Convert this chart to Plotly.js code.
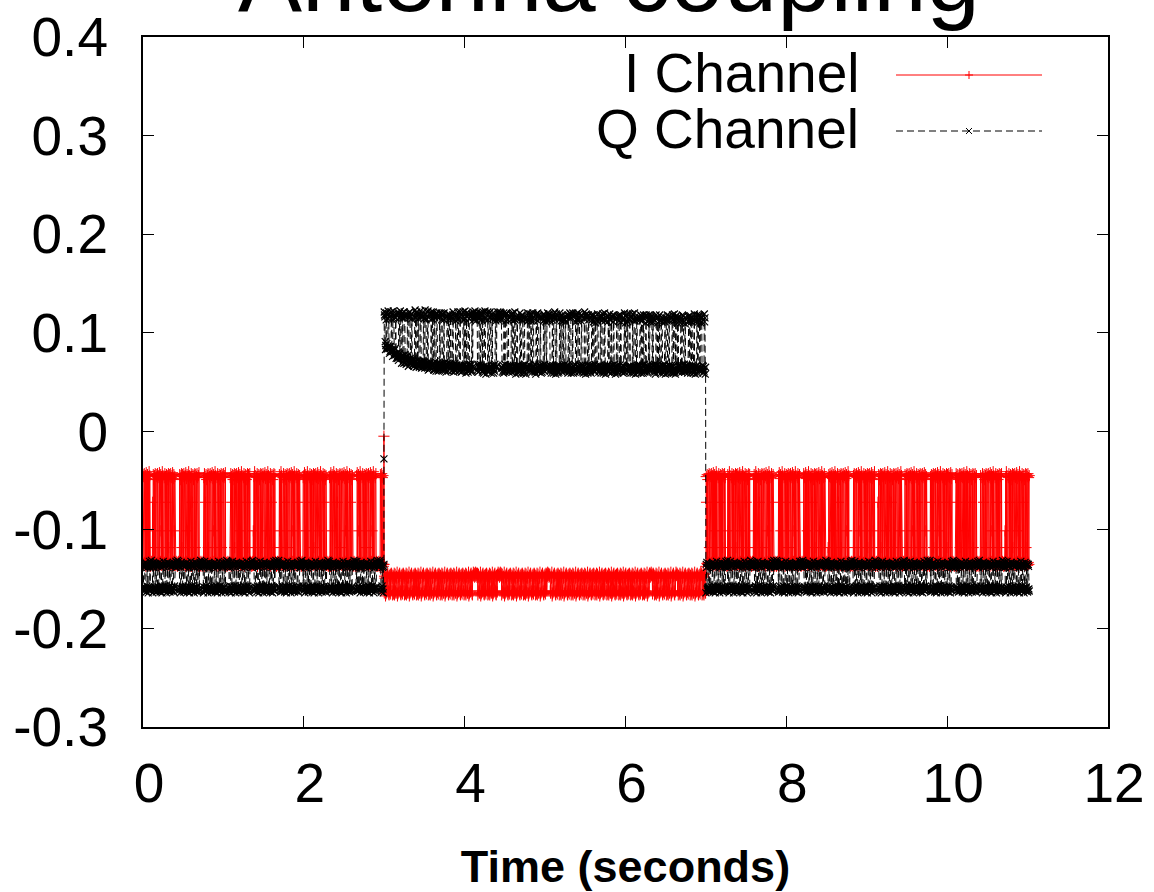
<!DOCTYPE html>
<html>
<head>
<meta charset="utf-8">
<script src="https://cdn.plot.ly/plotly-3.0.1.min.js"></script>
<style>html,body{margin:0;padding:0;background:#fff;}#chart{width:1154px;height:892px;}</style>
</head>
<body>
<div id="chart"></div>
<script>
// ---------- data ----------
const TITLE = "Antenna coupling";
const X_TITLE = "Time (seconds)";
const SERIES_NAMES = ["I Channel", "Q Channel"];
const X_TICKS = [0, 2, 4, 6, 8, 10, 12];
const X_TICK_TEXT = ["0", "2", "4", "6", "8", "10", "12"];
const Y_TICKS = [-0.3, -0.2, -0.1, 0, 0.1, 0.2, 0.3, 0.4];
const Y_TICK_TEXT = ["-0.3", "-0.2", "-0.1", "0", "0.1", "0.2", "0.3", "0.4"];

const SAMPLE_STEP = 0.004;      // seconds between samples
const T_END = 11.02;            // last sample time
const B_START = 3.0, B_END = 7.0; // middle segment

// I channel burst windows (seconds) outside the middle segment
const I_BURSTS = [
  [0.00, 0.09], [0.12, 0.40], [0.45, 0.70], [0.75, 1.03], [1.07, 1.33], [1.37, 1.64],
  [1.69, 1.95], [1.99, 2.28], [2.32, 2.61], [2.65, 2.90], [2.95, 2.99],
  [7.00, 7.24], [7.27, 7.55], [7.59, 7.84], [7.90, 8.17], [8.21, 8.48], [8.52, 8.79],
  [8.83, 9.10], [9.14, 9.44], [9.47, 9.75], [9.79, 10.06], [10.10, 10.37], [10.41, 10.68],
  [10.72, 11.02]
];
// blocks of activity inside the middle segment
const B_BLOCKS = [[3.00, 4.10], [4.16, 4.41], [4.46, 5.02], [5.06, 6.30], [6.33, 6.62], [6.64, 6.93], [6.95, 7.00]];

// sample values
const I_BURST_VALS = [-0.044,-0.134,-0.046,-0.136,-0.043,-0.133,-0.047,-0.135,-0.045,-0.137,
  -0.042,-0.134,-0.048,-0.132,-0.044,-0.101,-0.136,-0.046,-0.135,-0.041,
  -0.134,-0.045,-0.136,-0.135,-0.134,-0.047,-0.133,-0.043,-0.137,-0.046,
  -0.072,-0.134,-0.044,-0.135,-0.049,-0.133,-0.045,-0.136,-0.043,-0.118,-0.135];
const I_IDLE_VALS = [-0.135,-0.133,-0.137,-0.134,-0.136,-0.132,-0.135];
const Q_BURST_VALS = [-0.135,-0.137,-0.160,-0.162,-0.158,-0.161,-0.134,-0.136,-0.133,-0.159,
  -0.163,-0.160,-0.157,-0.136,-0.138,-0.160,-0.164,-0.158,-0.161,-0.135,
  -0.132,-0.137,-0.159,-0.162,-0.160,-0.157,-0.134,-0.136,-0.161,-0.159,
  -0.164,-0.135,-0.138,-0.133,-0.160,-0.162,-0.159,-0.158,-0.136,-0.134,
  -0.161,-0.163,-0.135];
const Q_IDLE_VALS = [-0.134,-0.137,-0.135,-0.132,-0.136,-0.138,-0.133,-0.135,-0.131];

const I_B_BLOCK_VALS = [-0.146,-0.147,-0.165,-0.163,-0.144,-0.166,-0.148,-0.145,-0.162,-0.164,
  -0.164,-0.147,-0.149,-0.143,-0.167,-0.165,-0.164,-0.148,-0.146,-0.163,
  -0.145,-0.144,-0.147,-0.162,-0.165,-0.166,-0.146,-0.163,-0.163,-0.145,
  -0.165,-0.147,-0.144,-0.145,-0.162,-0.149,-0.166];
const I_B_IDLE_VALS = [-0.146,-0.144,-0.148,-0.145,-0.147,-0.143,-0.146];

const Q_B_PATTERN = "TTTBBBTTBBBBTTTBBBBBBBTTBBBTTTTBBBBTTBBBBBBBBTTTBB";
const Q_B_JITTER = [0.002,-0.003,0.001,0.004,-0.001,-0.004,0.003,0.000,-0.002,0.005,-0.003,0.001,
  -0.005,0.002,0.003,-0.001,0.000,-0.002,0.004,-0.004,0.001,0.002,-0.003,0.003,-0.001,0.004,
  -0.002,0.000,0.003,-0.004,0.001];
const Q_B_TOP_LEVELS = [[3.0,0.118],[3.6,0.117],[4.6,0.116],[5.6,0.115],[6.4,0.114]];
const Q_B_LOW_LEVELS = [[3.00,0.086],[3.05,0.082],[3.10,0.079],[3.15,0.076],[3.20,0.073],
  [3.30,0.070],[3.40,0.068],[3.50,0.066],[3.65,0.065],[3.85,0.064],[4.20,0.063]];

// switch-over glitch just before the middle segment
const SPIKE_TIME = 2.996;
const I_SPIKE = -0.005;
const Q_SPIKE = -0.028;

// ---------- assemble the traces ----------
function inside(t, wins) { return wins.some(w => t >= w[0] && t < w[1] + 1e-9); }
function stepLevel(t, table) { let v = table[0][1]; for (const r of table) if (t >= r[0]) v = r[1]; return v; }

const tI = [], vI = [], tQ = [], vQ = [];
let spikeDone = false;
const nSamples = Math.round(T_END / SAMPLE_STEP);
for (let k = 0; k <= nSamples; k++) {
  const t = +(k * SAMPLE_STEP).toFixed(4);
  let iv, qv;
  if (t >= B_START && !spikeDone) {
    tI.push(SPIKE_TIME); vI.push(I_SPIKE);
    tQ.push(SPIKE_TIME); vQ.push(Q_SPIKE);
    spikeDone = true;
  }
  if (t < B_START || t >= B_END) {
    if (inside(t, I_BURSTS)) {
      iv = I_BURST_VALS[k % I_BURST_VALS.length];
      qv = Q_BURST_VALS[k % Q_BURST_VALS.length];
    } else {
      iv = I_IDLE_VALS[k % I_IDLE_VALS.length];
      qv = Q_IDLE_VALS[k % Q_IDLE_VALS.length];
    }
  } else {
    let state;
    if (inside(t, B_BLOCKS)) {
      iv = I_B_BLOCK_VALS[k % I_B_BLOCK_VALS.length];
      state = Q_B_PATTERN[k % Q_B_PATTERN.length];
    } else {
      iv = I_B_IDLE_VALS[k % I_B_IDLE_VALS.length];
      state = "T";
    }
    const lvl = state === "T" ? stepLevel(t, Q_B_TOP_LEVELS) : stepLevel(t, Q_B_LOW_LEVELS);
    qv = lvl + Q_B_JITTER[k % Q_B_JITTER.length];
  }
  tI.push(t); vI.push(iv);
  tQ.push(t); vQ.push(qv);
}

const FONT = "Liberation Sans, Arial, Helvetica, sans-serif";

const traces = [
  {
    type: "scatter", mode: "lines+markers", name: SERIES_NAMES[0],
    x: tI, y: vI,
    line: { color: "#ff0000", width: 1 },
    marker: { symbol: "cross-thin-open", size: 8, color: "#ff0000", line: { color: "#ff0000", width: 1 } },
    showlegend: false, hoverinfo: "skip"
  },
  {
    type: "scatter", mode: "lines+markers", name: SERIES_NAMES[1],
    x: tQ, y: vQ,
    line: { color: "#000000", width: 1, dash: "7px,4px" },
    marker: { symbol: "x-thin-open", size: 7, color: "#000000", line: { color: "#000000", width: 1.2 } },
    showlegend: false, hoverinfo: "skip"
  }
];

// legend (text on the left, sample on the right, as in the reference)
const px = x => (x - 143) / 965;
const py = y => (727 - y) / 690;
const legendRows = [
  { name: SERIES_NAMES[0], y: 75, color: "#ff0000", dash: "solid", sym: "plus" },
  { name: SERIES_NAMES[1], y: 131, color: "#000000", dash: "7px,4px", sym: "x" }
];
const annotations = [], shapes = [];
legendRows.forEach(r => {
  annotations.push({
    xref: "paper", yref: "paper", x: px(861), y: py(r.y - 2), xanchor: "right", yanchor: "middle",
    text: r.name, showarrow: false, font: { family: FONT, size: 55, color: "#000" }
  });
  shapes.push({ type: "line", xref: "paper", yref: "paper", x0: px(896), x1: px(1042), y0: py(r.y), y1: py(r.y),
    line: { color: r.color, width: 1, dash: r.dash } });
  const cx = px(969), cy = py(r.y);
  if (r.sym === "plus") {
    shapes.push({ type: "line", xref: "paper", yref: "paper", xsizemode: "pixel", ysizemode: "pixel",
      xanchor: cx, yanchor: cy, x0: 0, x1: 0, y0: -4, y1: 4, line: { color: r.color, width: 1 } });
    shapes.push({ type: "line", xref: "paper", yref: "paper", xsizemode: "pixel", ysizemode: "pixel",
      xanchor: cx, yanchor: cy, x0: -4, x1: 4, y0: 0, y1: 0, line: { color: r.color, width: 1 } });
  } else {
    shapes.push({ type: "line", xref: "paper", yref: "paper", xsizemode: "pixel", ysizemode: "pixel",
      xanchor: cx, yanchor: cy, x0: -3, x1: 3, y0: -3, y1: 3, line: { color: r.color, width: 1 } });
    shapes.push({ type: "line", xref: "paper", yref: "paper", xsizemode: "pixel", ysizemode: "pixel",
      xanchor: cx, yanchor: cy, x0: -3, x1: 3, y0: 3, y1: -3, line: { color: r.color, width: 1 } });
  }
});

const layout = {
  width: 1154, height: 892,
  margin: { l: 143, r: 46, t: 37, b: 165, pad: 0 },
  paper_bgcolor: "#fff", plot_bgcolor: "#fff",
  font: { family: FONT, color: "#000" },
  title: {
    text: TITLE, font: { family: FONT, size: 96, color: "#000" },
    xref: "container", yref: "container", x: 609 / 1154, xanchor: "center",
    y: 1 - 11 / 892, yanchor: "bottom", automargin: false
  },
  xaxis: {
    range: [0, 12], tickvals: X_TICKS, ticktext: X_TICK_TEXT,
    ticks: "inside", ticklen: 11, tickwidth: 1, tickcolor: "#000",
    showline: true, linewidth: 2, linecolor: "#000", mirror: "allticks",
    showgrid: false, zeroline: false,
    tickfont: { family: FONT, size: 55, color: "#000" },
    ticklabelstandoff: 7, ticklabelshift: 6,
    title: { text: X_TITLE, font: { family: FONT, size: 45, color: "#000", weight: "bold" }, standoff: 44 },
    fixedrange: true
  },
  yaxis: {
    range: [-0.3, 0.4], tickvals: Y_TICKS, ticktext: Y_TICK_TEXT,
    ticks: "inside", ticklen: 11, tickwidth: 1, tickcolor: "#000",
    showline: true, linewidth: 2, linecolor: "#000", mirror: "allticks",
    showgrid: false, zeroline: false,
    tickfont: { family: FONT, size: 55, color: "#000" },
    ticklabelstandoff: 22,
    fixedrange: true
  },
  annotations: annotations,
  shapes: shapes,
  showlegend: false
};

Plotly.newPlot("chart", traces, layout, { staticPlot: true, displayModeBar: false });
</script>
</body>
</html>
